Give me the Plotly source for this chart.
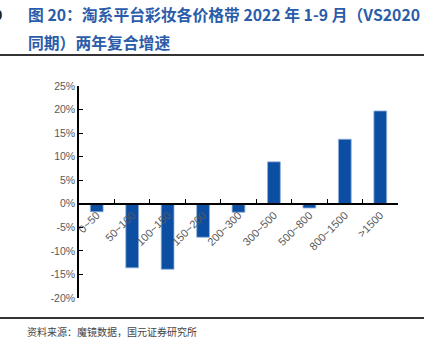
import plotly.graph_objects as go

categories = ["0~50", "50~100", "100~150", "150~200", "200~300", "300~500", "500~800", "800~1500", ">1500"]
growth = [-1.7, -13.6, -13.9, -7.1, -1.8, 8.9, -0.9, 13.7, 19.7]
y_ticks = [-20, -15, -10, -5, 0, 5, 10, 15, 20, 25]
y_tick_text = ["-20%", "-15%", "-10%", "-5%", "0%", "5%", "10%", "15%", "20%", "25%"]

title_1 = "图 20：淘系平台彩妆各价格带 2022 年 1-9 月（VS2020"
title_2 = "同期）两年复合增速"
source = "资料来源：魔镜数据，国元证券研究所"

W, H = 434, 353
L, R, T, B = 79, 398, 86, 298

def px(x):
    return (x - L) / (R - L)

def py(y):
    return (B - y) / (B - T)

fig = go.Figure()
fig.add_trace(go.Bar(
    x=categories, y=growth,
    marker=dict(color="#0B4EA2", line=dict(color="#8FB0DA", width=0.8)),
    width=0.36,
))

tick_font = dict(family="Liberation Sans, Arial", size=10.5, color="#595959")
fig.update_layout(
    width=W, height=H,
    margin=dict(l=L, r=W - R, t=T, b=H - B),
    paper_bgcolor="white", plot_bgcolor="white",
    showlegend=False,
    xaxis=dict(
        anchor="free", position=20 / 45,
        showline=True, linecolor="black", linewidth=1.5,
        ticks="inside", ticklen=4, tickcolor="black", tickwidth=1,
        tickson="boundaries", tickangle=-45,
        tickfont=dict(family="Liberation Sans, Arial", size=11, color="#595959"),
        showgrid=False, zeroline=False,
    ),
    yaxis=dict(
        range=[-20, 25], tickmode="array", tickvals=y_ticks, ticktext=y_tick_text,
        showline=True, linecolor="black", linewidth=1.5,
        ticks="inside", ticklen=4, tickcolor="black", tickwidth=1,
        tickfont=tick_font, showgrid=False, zeroline=False,
    ),
)

title_font = dict(family="Noto Sans CJK SC", size=15.8, color="#2A5CAA")
fig.add_annotation(text="<b>" + title_1 + "</b>", xref="paper", yref="paper",
                   x=px(26), y=py(15), xanchor="left", yanchor="middle",
                   showarrow=False, font=title_font)
fig.add_annotation(text="<b>" + title_2 + "</b>", xref="paper", yref="paper",
                   x=px(26), y=py(42), xanchor="left", yanchor="middle",
                   showarrow=False, font=title_font)
fig.add_annotation(text="<b>0</b>", xref="paper", yref="paper",
                   x=px(4), y=py(15), xanchor="right", yanchor="middle",
                   showarrow=False, font=dict(family="Liberation Sans", size=15, color="#222222"))
fig.add_annotation(text=source, xref="paper", yref="paper",
                   x=px(25), y=py(331), xanchor="left", yanchor="middle",
                   showarrow=False, font=dict(family="Noto Sans CJK SC", size=10, color="#444444"))

for yy in (55, 318):
    fig.add_shape(type="line", xref="paper", yref="paper",
                  x0=px(0), x1=px(424), y0=py(yy), y1=py(yy),
                  line=dict(color="#333333", width=2))

fig.write_html("out.html")
